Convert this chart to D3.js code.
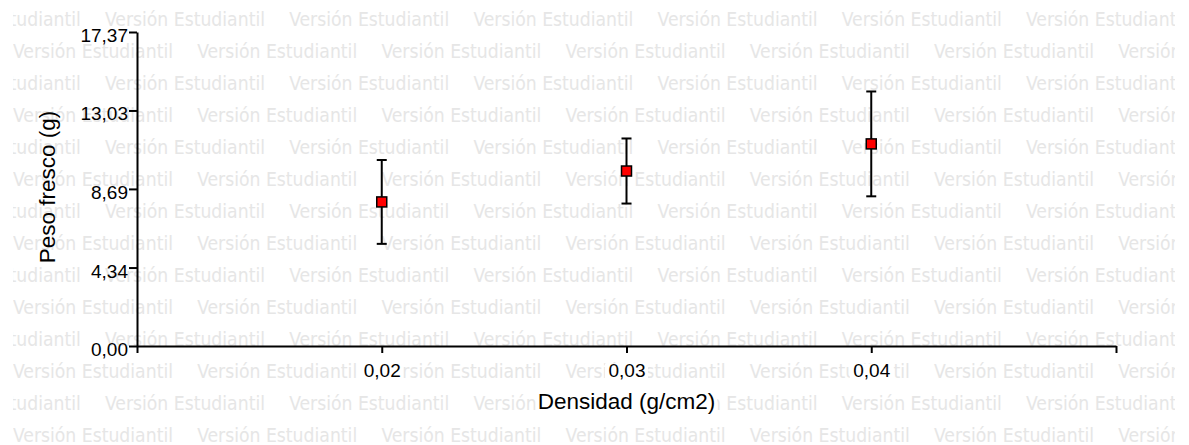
<!DOCTYPE html>
<html>
<head>
<meta charset="utf-8">
<script src="https://cdn.jsdelivr.net/npm/d3@7"></script>
<style>
  body { margin: 0; background: #fff; }
  svg { display: block; }
  .axis text { font-family: "Liberation Sans", Arial, sans-serif; font-size: 19px; fill: #000; }
  .axis path, .axis line { stroke: #000; stroke-width: 2; }
  .marca text { font-family: "DejaVu Sans Condensed", "DejaVu Sans", sans-serif; font-size: 19px; fill: #e6e6e6; }
  .titulo { font-family: "Liberation Sans", Arial, sans-serif; font-size: 22.5px; fill: #000; }
</style>
</head>
<body>
<svg width="1189" height="445"></svg>
<script>
// datos
var densidad = [0.02, 0.03, 0.04],
    peso = [7.97, 9.68, 11.18],
    desvio = [2.32, 1.80, 2.90],
    yTicks = [0, 4.34, 8.69, 13.03, 17.37],
    xTicks = [0.01, 0.02, 0.03, 0.04, 0.05],
    xConEtiqueta = [0.02, 0.03, 0.04],
    marca = "Versión Estudiantil";

var svg = d3.select("svg"),
    width = +svg.attr("width"),
    height = +svg.attr("height");

var x = d3.scaleLinear().domain([0.01, 0.05]).range([137, 1116]),
    y = d3.scaleLinear().domain([0, 17.37]).range([346, 32]);

var coma = function(d, n) { return d.toFixed(n).replace(".", ","); };

/*
 * marca de agua de fondo
 */
svg.append("clipPath").attr("id", "clipMarca")
  .append("rect").attr("x", 13).attr("y", 0).attr("width", 1162).attr("height", height);

var gm = svg.append("g").attr("class", "marca").attr("clip-path", "url(#clipMarca)");
d3.range(14).forEach(function(i) {
  var x0 = (i % 2 == 0) ? 105 - 184.2 : 13;
  d3.range(8).forEach(function(k) {
    gm.append("text")
      .attr("x", x0 + k * 184.2)
      .attr("y", 26 + 32 * i)
      .attr("textLength", 160)
      .attr("lengthAdjust", "spacingAndGlyphs")
      .text(marca);
  });
});

// capa de fondos blancos (debajo de ejes y titulos)
var gFondo = svg.append("g");

/*
 * ejes
 */
var gy = svg.append("g")
    .attr("class", "axis")
    .attr("transform", "translate(" + x.range()[0] + ",0)")
    .call(d3.axisLeft(y).tickValues(yTicks).tickSize(8).tickSizeOuter(0).tickPadding(1)
      .tickFormat(function(d) { return coma(d, 2); }));
gy.selectAll("text").attr("dy", "0.5em");

var gx = svg.append("g")
    .attr("class", "axis")
    .attr("transform", "translate(0," + y.range()[0] + ")")
    .call(d3.axisBottom(x).tickValues(xTicks).tickSize(7).tickSizeOuter(0).tickPadding(11)
      .tickFormat(function(d) { return xConEtiqueta.indexOf(d) >= 0 ? coma(d, 2) : ""; }));

// fondo blanco detras de las etiquetas del eje x
gx.selectAll(".tick text").each(function(d) {
  if (!this.textContent) return;
  var b = this.getBBox();
  gFondo.append("rect")
    .attr("x", x(d) + b.x - 3).attr("y", y.range()[0] + b.y + 3)
    .attr("width", b.width + 6).attr("height", b.height - 5)
    .attr("fill", "#fff");
});

/*
 * titulos
 */
var tx = svg.append("text")
    .attr("class", "titulo")
    .attr("x", x(0.03)).attr("y", 409)
    .attr("text-anchor", "middle")
    .text("Densidad (g/cm2)");
var bx = tx.node().getBBox();
gFondo.append("rect")
  .attr("x", bx.x - 2).attr("y", bx.y + 4)
  .attr("width", bx.width + 4).attr("height", bx.height - 4)
  .attr("fill", "#fff");

svg.append("text")
  .attr("class", "titulo")
  .attr("transform", "translate(55,187) rotate(-90)")
  .attr("text-anchor", "middle")
  .text("Peso fresco (g)");

/*
 * barras de error y puntos
 */
var gp = svg.append("g");
densidad.forEach(function(d, i) {
  var cx = x(d), top = y(peso[i] + desvio[i]), bot = y(peso[i] - desvio[i]);
  gp.append("line").attr("x1", cx).attr("x2", cx).attr("y1", top).attr("y2", bot)
    .attr("stroke", "#000").attr("stroke-width", 2);
  [top, bot].forEach(function(v) {
    gp.append("line").attr("x1", cx - 5).attr("x2", cx + 5).attr("y1", v).attr("y2", v)
      .attr("stroke", "#000").attr("stroke-width", 2);
  });
  gp.append("rect")
    .attr("x", cx - 5).attr("y", y(peso[i]) - 5)
    .attr("width", 10).attr("height", 10)
    .attr("fill", "#ff0000").attr("stroke", "#000").attr("stroke-width", 1.5);
});
</script>
</body>
</html>
